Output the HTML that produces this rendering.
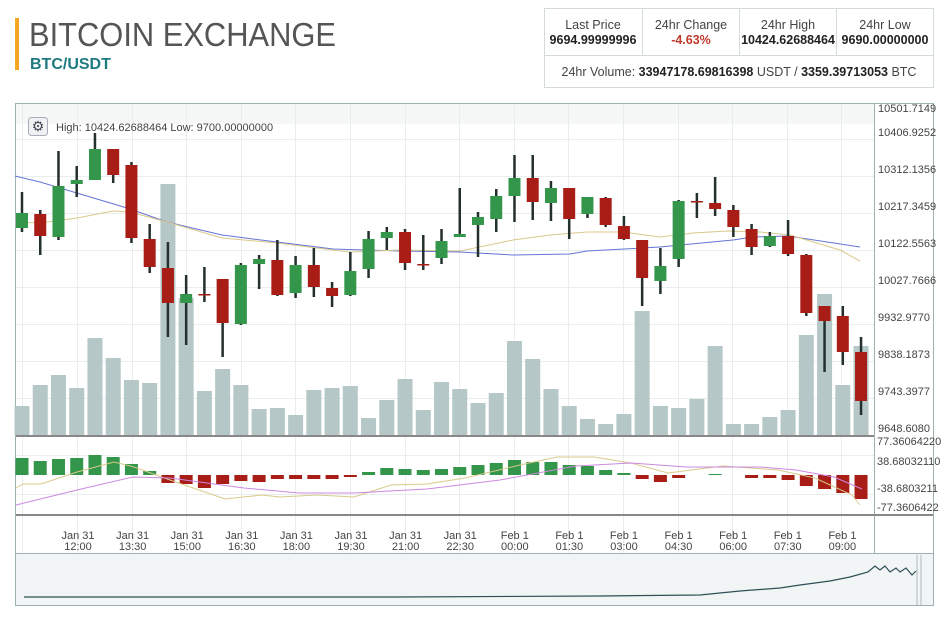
<!DOCTYPE html>
<html><head><meta charset="utf-8"><style>
body{margin:0;width:946px;height:621px;background:#fff;font-family:"Liberation Sans",sans-serif;overflow:hidden;position:relative}
svg{position:absolute;left:0;top:0}
</style></head><body>
<svg width="946" height="621" xmlns="http://www.w3.org/2000/svg" font-family="Liberation Sans, sans-serif">
<rect x="15" y="18" width="4" height="52" fill="#f5a623"/>
<text x="29" y="46" font-size="33" fill="#555" textLength="307" lengthAdjust="spacingAndGlyphs">BITCOIN EXCHANGE</text>
<text x="30" y="69" font-size="16" font-weight="bold" fill="#1d7a80">BTC/USDT</text>
<rect x="544.5" y="8.5" width="389" height="79" fill="#fff" stroke="#d2dadc"/>
<line x1="544" y1="55.5" x2="934" y2="55.5" stroke="#d2dadc"/>
<line x1="642.5" y1="8" x2="642.5" y2="55" stroke="#d2dadc"/>
<line x1="739.5" y1="8" x2="739.5" y2="55" stroke="#d2dadc"/>
<line x1="836.5" y1="8" x2="836.5" y2="55" stroke="#d2dadc"/>
<g font-size="12.5" text-anchor="middle" fill="#444">
<text x="593" y="29">Last Price</text><text x="593" y="44" font-weight="bold" fill="#222">9694.99999996</text>
<text x="691" y="29">24hr Change</text><text x="691" y="44" font-weight="bold" fill="#c0392b">-4.63%</text>
<text x="788" y="29">24hr High</text><text x="788" y="44" font-weight="bold" fill="#222">10424.62688464</text>
<text x="885" y="29">24hr Low</text><text x="885" y="44" font-weight="bold" fill="#222">9690.00000000</text>
<text x="739" y="76">24hr Volume: <tspan font-weight="bold" fill="#222">33947178.69816398</tspan> USDT / <tspan font-weight="bold" fill="#222">3359.39713053</tspan> BTC</text>
</g>
<rect x="15.5" y="103.5" width="918" height="502" fill="#fff" stroke="#9fb0b2"/>
<rect x="16" y="104" width="858" height="20" fill="#f6f8f8"/>
<g id="grid" stroke="#e8eeee" stroke-width="1"></g>
<g id="vol" fill="#b6c7c8"></g>
<g id="ma"></g>
<g id="candles"></g>
<line x1="874.5" y1="104" x2="874.5" y2="553" stroke="#9fb0b2"/>
<line x1="16" y1="436" x2="874" y2="436" stroke="#888" stroke-width="2"/>
<line x1="16" y1="515" x2="933" y2="515" stroke="#888" stroke-width="2"/>
<line x1="16" y1="553.5" x2="933" y2="553.5" stroke="#9fb0b2"/>
<rect x="16" y="554" width="917" height="51" fill="#f2f5f5"/>
<g font-size="11" fill="#444">
<text x="878" y="112">10501.7149</text><text x="878" y="136">10406.9252</text><text x="878" y="173">10312.1356</text>
<text x="878" y="210">10217.3459</text><text x="878" y="247">10122.5563</text><text x="878" y="284">10027.7666</text>
<text x="878" y="321">9932.9770</text><text x="878" y="358">9838.1873</text><text x="878" y="395">9743.3977</text>
<text x="878" y="432">9648.6080</text>
<text x="877" y="445">77.36064220</text><text x="877" y="465">38.68032110</text>
<text x="877" y="492">-38.6803211</text><text x="877" y="511">-77.3606422</text>
</g>
<rect x="28.5" y="117.5" width="19" height="18" rx="3" fill="#eef2f2" stroke="#aab"/>
<text x="38" y="131" font-size="14" text-anchor="middle" fill="#445">⚙</text>
<text x="56" y="131" font-size="11" fill="#444">High: 10424.62688464  Low: 9700.00000000</text>
<g id="macd"></g>
<g id="tl" font-size="11" fill="#444" text-anchor="middle"></g>
<polyline fill="none" stroke="#2d5055" stroke-width="1.2" points="24,597 200,597 400,597 600,596 700,595 740,591 780,588 800,585 830,581 850,577 868,572 875,566 880,570 885,566 890,572 896,568 900,572 906,568 912,575 916,571"/>
<line x1="917" y1="555" x2="917" y2="605" stroke="#b0b8b8"/><line x1="921" y1="555" x2="921" y2="605" stroke="#b0b8b8"/>
</svg>
<script>
const NS="http://www.w3.org/2000/svg";
function el(p,t,a){const e=document.createElementNS(NS,t);for(const k in a)e.setAttribute(k,a[k]);document.getElementById(p).appendChild(e);return e;}
const X=i=>22+i*18.24;
[139,176,213,250,287,324,361,398,455,494].forEach(y=>el('grid','line',{x1:16,x2:874,y1:y+.5,y2:y+.5}));
for(let i=0;i<15;i++){const x=Math.round(77+54.6*i)+.5;el('grid','line',{x1:x,x2:x,y1:104,y2:553});}
el('grid','line',{x1:22.5,x2:22.5,y1:104,y2:553});
const V=[406,385,375,388,338,358,380,383,184,298,391,369,385,409,408,415,390,388,386,418,400,379,410,382,389,403,393,341,359,389,406,419,424,414,311,406,408,399,346,424,424,417,410,335,294,385,346];
V.forEach((t,i)=>el('vol','rect',{x:X(i)-7.5,y:t,width:15,height:435-t}));
el('ma','polyline',{fill:'none',stroke:'#6674d8','stroke-width':1,points:"15,176 40,182 127,208 167,222 222,235 277,242 333,249 400,251 460,252 513,255 570,254 587,251 660,247 733,240 753,237 788,236 860,247"});
el('ma','polyline',{fill:'none',stroke:'#d9c98a','stroke-width':1,points:"15,222 40,223 77,218 113,211 130,212 167,222 222,238 277,243 333,250 350,252 400,250 460,251 513,240 550,235 587,232 623,232 660,237 693,233 727,231 760,232 790,235 840,250 860,261"});
const C=[[1,213,228,192,232],[0,214,236,210,255],[1,186,237,151,240],[1,180,184,166,197],[1,149,180,133,180],[0,149,175,149,183],[0,165,238,162,243],[0,239,267,224,273],[0,268,303,242,337],[1,294,303,275,345],[0,294,294,267,302],[0,279,323,279,357],[1,265,324,263,325],[1,259,264,255,289],[0,260,295,240,296],[1,265,293,256,298],[0,265,287,248,297],[0,288,296,282,307],[1,271,295,252,296],[1,239,269,231,278],[1,232,238,227,250],[0,232,263,229,270],[0,264,264,235,270],[1,241,258,229,264],[1,234,237,188,237],
[1,217,225,212,257],[1,196,219,189,232],[1,178,196,155,222],[0,178,202,155,220],[1,188,203,181,221],[0,188,219,188,239],[1,197,214,197,218],[0,198,225,197,227],[0,226,239,216,240],[0,240,278,240,306],[1,266,281,248,294],[1,201,259,200,267],[0,201,201,193,218],[0,203,209,177,216],[0,210,227,205,237],[0,229,247,224,255],[1,236,246,232,247],[0,236,254,220,256],[0,255,313,254,316],[0,306,321,306,372],[0,316,352,306,365],[0,352,401,337,415]];
C.forEach((c,i)=>{const x=X(i);
el('candles','line',{x1:x,x2:x,y1:c[3],y2:c[4],stroke:'#24302e','stroke-width':2.5});
const h=Math.max(c[2]-c[1],1.5);
el('candles','rect',{x:x-6,y:c[1],width:12,height:h,fill:c[0]?'#33964a':'#a81d16'});});
const Z=475;
const M=[458,461,459,458,455,457,464,471,483,484,488,484,481,482,479,479,479,479,477,472,468,469,470,469,467,465,463,460,462,462,465,466,470,473,479,482,478,null,474,null,478,478,480,486,489,493,499];
M.forEach((v,i)=>{if(v==null)return;const x=X(i);
if(v<Z)el('macd','rect',{x:x-6.5,y:v,width:13,height:Z-v,fill:'#33964a'});
else el('macd','rect',{x:x-6.5,y:Z,width:13,height:Math.max(v-Z,1.5),fill:'#a81d16'});});
el('macd','polyline',{fill:'none',stroke:'#d9c98a','stroke-width':1,points:"16,488 23,484 41,484 77,472 114,462 134,467 170,480 225,499 262,495 280,497 317,495 354,497 391,485 427,484 465,478 520,465 557,457 594,457 631,463 668,473 723,466 778,470 815,478 852,495 860,505"});
el('macd','polyline',{fill:'none',stroke:'#cc88e0','stroke-width':1,points:"16,505 77,490 133,477 170,478 244,488 299,493 354,493 427,489 500,480 576,466 631,463 686,467 760,467 796,470 834,477 862,489"});
const L=[["Jan 31","12:00"],["Jan 31","13:30"],["Jan 31","15:00"],["Jan 31","16:30"],["Jan 31","18:00"],["Jan 31","19:30"],["Jan 31","21:00"],["Jan 31","22:30"],["Feb 1","00:00"],["Feb 1","01:30"],["Feb 1","03:00"],["Feb 1","04:30"],["Feb 1","06:00"],["Feb 1","07:30"],["Feb 1","09:00"]];
L.forEach((l,i)=>{const x=78+54.6*i;const a=el('tl','text',{x:x,y:539});a.textContent=l[0];const b=el('tl','text',{x:x,y:550});b.textContent=l[1];});
</script>
</body></html>
